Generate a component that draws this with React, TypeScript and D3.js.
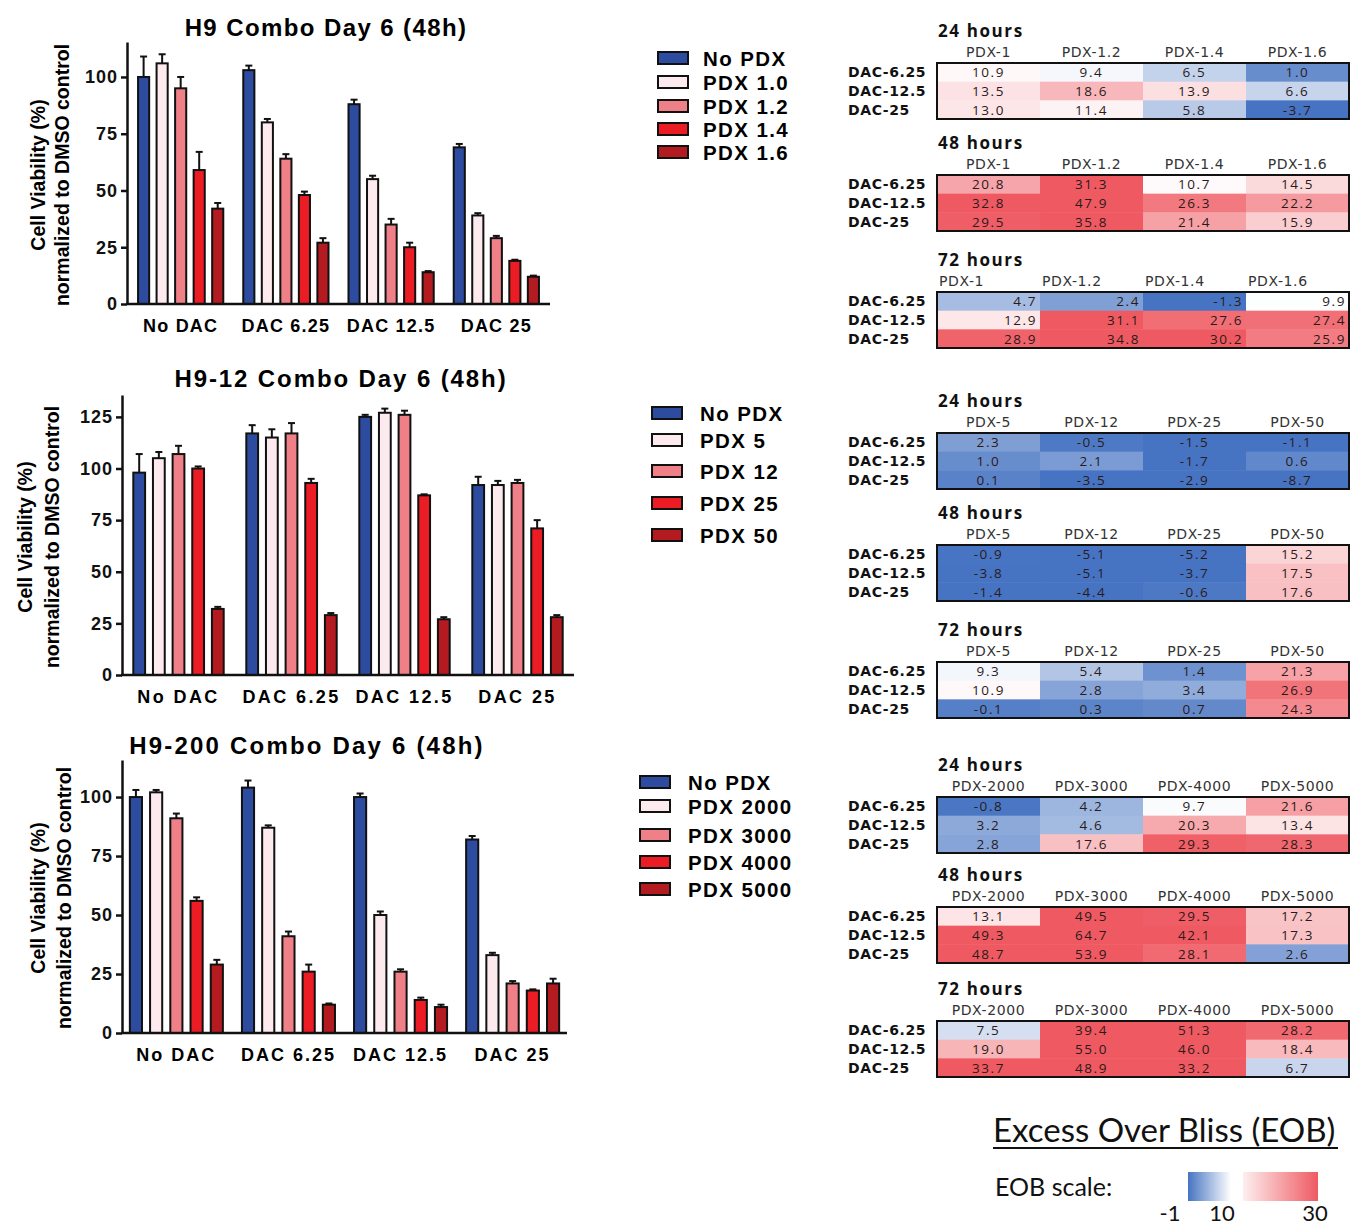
import React, { useEffect, useRef } from 'react';
import * as d3 from 'd3';

// ---- bar chart data ----
const groups = ['No DAC', 'DAC 6.25', 'DAC 12.5', 'DAC 25'];
const barColors = ['#2d4c9f', '#fdeaee', '#f08088', '#ec1c24', '#b31b21'];
const yTicks1 = [0, 25, 50, 75, 100];
const yTicks2 = [0, 25, 50, 75, 100, 125];

const h9Legend = ['No PDX', 'PDX 1.0', 'PDX 1.2', 'PDX 1.4', 'PDX 1.6'];
const h9Values = [[100, 106, 95, 59, 42], [103, 80, 64, 48, 27], [88, 55, 35, 25, 14], [69, 39, 29, 19, 12]];
const h9Errors = [[9, 4, 5, 8, 2.5], [2, 1.5, 2, 1.5, 2], [2, 1.5, 2.5, 2, 0.5], [1.5, 1, 1, 0.5, 0.5]];

const h912Legend = ['No PDX', 'PDX 5', 'PDX 12', 'PDX 25', 'PDX 50'];
const h912Values = [[98, 105, 107, 100, 32], [117, 115, 117, 93, 29], [125, 127, 126, 87, 27], [92, 92, 93, 71, 28]];
const h912Errors = [[9, 3, 4, 1, 1], [4, 4, 5, 2, 1], [1, 2, 2, 0.5, 1], [4, 2, 1.5, 4, 1]];

const h9200Legend = ['No PDX', 'PDX 2000', 'PDX 3000', 'PDX 4000', 'PDX 5000'];
const h9200Values = [[100, 102, 91, 56, 29], [104, 87, 41, 26, 12], [100, 50, 26, 14, 11], [82, 33, 21, 18, 21]];
const h9200Errors = [[3, 1, 2, 1.5, 2], [3, 1, 2, 3, 0.5], [1.5, 1.5, 1, 1, 1], [1.5, 1, 1, 0.5, 2]];

// ---- heatmap data ----
const rowLabels = ['DAC-6.25', 'DAC-12.5', 'DAC-25'];
const cols1 = ['PDX-1', 'PDX-1.2', 'PDX-1.4', 'PDX-1.6'];
const cols2 = ['PDX-5', 'PDX-12', 'PDX-25', 'PDX-50'];
const cols3 = ['PDX-2000', 'PDX-3000', 'PDX-4000', 'PDX-5000'];

const eob1_24 = [[10.9, 9.4, 6.5, 1.0], [13.5, 18.6, 13.9, 6.6], [13.0, 11.4, 5.8, -3.7]];
const eob1_48 = [[20.8, 31.3, 10.7, 14.5], [32.8, 47.9, 26.3, 22.2], [29.5, 35.8, 21.4, 15.9]];
const eob1_72 = [[4.7, 2.4, -1.3, 9.9], [12.9, 31.1, 27.6, 27.4], [28.9, 34.8, 30.2, 25.9]];
const eob2_24 = [[2.3, -0.5, -1.5, -1.1], [1.0, 2.1, -1.7, 0.6], [0.1, -3.5, -2.9, -8.7]];
const eob2_48 = [[-0.9, -5.1, -5.2, 15.2], [-3.8, -5.1, -3.7, 17.5], [-1.4, -4.4, -0.6, 17.6]];
const eob2_72 = [[9.3, 5.4, 1.4, 21.3], [10.9, 2.8, 3.4, 26.9], [-0.1, 0.3, 0.7, 24.3]];
const eob3_24 = [[-0.8, 4.2, 9.7, 21.6], [3.2, 4.6, 20.3, 13.4], [2.8, 17.6, 29.3, 28.3]];
const eob3_48 = [[13.1, 49.5, 29.5, 17.2], [49.3, 64.7, 42.1, 17.3], [48.7, 53.9, 28.1, 2.6]];
const eob3_72 = [[7.5, 39.4, 51.3, 28.2], [19.0, 55.0, 46.0, 18.4], [33.7, 48.9, 33.2, 6.7]];

const eobScaleStops = [-1, 10, 30];

const ARIAL = 'Liberation Sans, Arial, sans-serif';
const CAL = 'Lato, Open Sans, sans-serif';

const App = () => {
  const ref = useRef<SVGSVGElement>(null);

  useEffect(() => {
    const svg = d3.select(ref.current);
    svg.selectAll('*').remove();

    const barCharts = [
      { title: 'H9 Combo Day 6 (48h)', tx: 326, ty: 27, tls: 1.4, values: h9Values, errors: h9Errors, legend: h9Legend, ticks: yTicks1,
        x0: 127, x1: 550, y0: 304, yTop: 42, yMax: 115.4, pi: 0.19, po: 0.105, labA: 38, labB: 62, labY: 175, ls: 1.2,
        legX: 658, legTX: 703, legY: [58, 82, 106, 129, 152] },
      { title: 'H9-12 Combo Day 6 (48h)', tx: 341, ty: 378, tls: 1.9, values: h912Values, errors: h912Errors, legend: h912Legend, ticks: yTicks2,
        x0: 122, x1: 574, y0: 675, yTop: 395, yMax: 135.6, pi: 0.2, po: 0.1, labA: 25, labB: 52, labY: 537, ls: 2.4,
        legX: 652, legTX: 700, legY: [413, 440, 471, 503, 535] },
      { title: 'H9-200 Combo Day 6 (48h)', tx: 307, ty: 745, tls: 2.2, values: h9200Values, errors: h9200Errors, legend: h9200Legend, ticks: yTicks1,
        x0: 122, x1: 567, y0: 1033, yTop: 760, yMax: 115.7, pi: 0.17, po: 0.07, labA: 38, labB: 64, labY: 898, ls: 2,
        legX: 640, legTX: 688, legY: [782, 806, 835, 862, 889] },
    ];

    barCharts.forEach((c) => {
      const g = svg.append('g');
      const y = d3.scaleLinear().domain([0, c.yMax]).range([c.y0, c.yTop]);
      const xg = d3.scaleBand().domain(groups).range([c.x0, c.x1]).paddingInner(c.pi).paddingOuter(c.po);
      const xi = d3.scaleBand<number>().domain(d3.range(5)).range([0, xg.bandwidth()]).paddingInner(0.4).paddingOuter(0);

      g.append('text').attr('x', c.tx).attr('y', c.ty).attr('text-anchor', 'middle').attr('dominant-baseline', 'central')
        .style('font', `bold 24px ${ARIAL}`).style('letter-spacing', `${c.tls}px`).text(c.title);

      [['Cell Viability (%)', c.labA], ['normalized to DMSO control', c.labB]].forEach(([t, lx]) => {
        g.append('text').attr('transform', `translate(${lx},${c.labY}) rotate(-90)`).attr('text-anchor', 'middle')
          .attr('dominant-baseline', 'central').style('font', `bold 19.5px ${ARIAL}`).text(t as string);
      });

      groups.forEach((grp, gi) => {
        c.values[gi].forEach((v, i) => {
          const bx = (xg(grp) as number) + (xi(i) as number);
          const bw = xi.bandwidth();
          g.append('rect').attr('x', bx).attr('y', y(v)).attr('width', bw).attr('height', c.y0 - y(v))
            .attr('fill', barColors[i]).attr('stroke', '#111').attr('stroke-width', 2);
          const e = c.errors[gi][i];
          const cx = bx + bw / 2;
          g.append('line').attr('x1', cx).attr('x2', cx).attr('y1', y(v)).attr('y2', y(v + e))
            .attr('stroke', '#111').attr('stroke-width', 2);
          g.append('line').attr('x1', cx - 3.5).attr('x2', cx + 3.5).attr('y1', y(v + e)).attr('y2', y(v + e))
            .attr('stroke', '#111').attr('stroke-width', 2);
        });
        g.append('text').attr('x', (xg(grp) as number) + xg.bandwidth() / 2).attr('y', c.y0 + 28)
          .attr('text-anchor', 'middle').style('font', `bold 18px ${ARIAL}`).style('letter-spacing', `${c.ls}px`).text(grp);
      });

      const ax = g.append('g').attr('transform', `translate(${c.x0},0)`)
        .call(d3.axisLeft(y).tickValues(c.ticks).tickSize(6).tickSizeOuter(0).tickPadding(3));
      ax.select('.domain').attr('stroke', '#111').attr('stroke-width', 2.5);
      ax.selectAll('.tick line').attr('stroke', '#111').attr('stroke-width', 2.5);
      ax.selectAll('.tick text').style('font', `bold 18px ${ARIAL}`).style('letter-spacing', '1px').attr('fill', '#111');

      g.append('line').attr('x1', c.x0 - 1).attr('x2', c.x1).attr('y1', c.y0).attr('y2', c.y0)
        .attr('stroke', '#111').attr('stroke-width', 2.5);

      c.legend.forEach((lab, i) => {
        g.append('rect').attr('x', c.legX).attr('y', c.legY[i] - 6).attr('width', 30).attr('height', 12)
          .attr('fill', barColors[i]).attr('stroke', '#111').attr('stroke-width', 2);
        g.append('text').attr('x', c.legTX).attr('y', c.legY[i]).attr('dominant-baseline', 'central')
          .style('font', `bold 20.5px ${ARIAL}`).style('letter-spacing', '1.4px').text(lab);
      });
    });

    // ---- heatmaps ----
    const color = d3.scaleLinear<string>().domain(eobScaleStops).range(['#4674c2', '#ffffff', '#ef5a62']).clamp(true);
    const tables = [
      { title: '24 hours', cols: cols1, vals: eob1_24, top: 63, right: false },
      { title: '48 hours', cols: cols1, vals: eob1_48, top: 175, right: false },
      { title: '72 hours', cols: cols1, vals: eob1_72, top: 292, right: true },
      { title: '24 hours', cols: cols2, vals: eob2_24, top: 433, right: false },
      { title: '48 hours', cols: cols2, vals: eob2_48, top: 545, right: false },
      { title: '72 hours', cols: cols2, vals: eob2_72, top: 662, right: false },
      { title: '24 hours', cols: cols3, vals: eob3_24, top: 797, right: false },
      { title: '48 hours', cols: cols3, vals: eob3_48, top: 907, right: false },
      { title: '72 hours', cols: cols3, vals: eob3_72, top: 1021, right: false },
    ];
    const hx0 = 937, hx1 = 1349, hh = 56;
    tables.forEach((t) => {
      const g = svg.append('g');
      const xc = d3.scaleBand<number>().domain(d3.range(4)).range([hx0, hx1]);
      const yr = d3.scaleBand<number>().domain(d3.range(3)).range([t.top, t.top + hh]);
      g.append('text').attr('x', hx0 + 1).attr('y', t.top - 26).style('font', `bold 17px Open Sans, sans-serif`)
        .style('letter-spacing', '1.6px').attr('fill', '#111').text(t.title);
      t.cols.forEach((cn, j) => {
        g.append('text')
          .attr('x', t.right ? (xc(j) as number) + 2 : (xc(j) as number) + xc.bandwidth() / 2)
          .attr('y', t.top - 6)
          .attr('text-anchor', t.right ? 'start' : 'middle')
          .style('font', `14px DejaVu Sans, sans-serif`).style('letter-spacing', '0.6px').attr('fill', '#333').text(cn);
      });
      t.vals.forEach((row, r) => {
        g.append('text').attr('x', 848).attr('y', (yr(r) as number) + yr.bandwidth() / 2)
          .attr('dominant-baseline', 'central').style('font', `bold 14px DejaVu Sans, sans-serif`)
          .style('letter-spacing', '0.6px').attr('fill', '#111').text(rowLabels[r]);
        row.forEach((v, j) => {
          g.append('rect').attr('x', xc(j) as number).attr('y', yr(r) as number)
            .attr('width', xc.bandwidth() + 0.5).attr('height', yr.bandwidth() + 0.5).attr('fill', color(v));
          g.append('text')
            .attr('x', t.right ? (xc(j) as number) + xc.bandwidth() - 3 : (xc(j) as number) + xc.bandwidth() / 2)
            .attr('y', (yr(r) as number) + yr.bandwidth() / 2)
            .attr('text-anchor', t.right ? 'end' : 'middle').attr('dominant-baseline', 'central')
            .style('font', `13.5px Open Sans, sans-serif`).style('letter-spacing', '1.6px').attr('fill', '#2a1a1a').text(v.toFixed(1));
        });
      });
      g.append('rect').attr('x', hx0).attr('y', t.top).attr('width', hx1 - hx0).attr('height', hh)
        .attr('fill', 'none').attr('stroke', '#111').attr('stroke-width', 2);
    });

    // ---- EOB legend ----
    const defs = svg.append('defs');
    const gb = defs.append('linearGradient').attr('id', 'gBlue');
    gb.append('stop').attr('offset', '0%').attr('stop-color', color(-1));
    gb.append('stop').attr('offset', '100%').attr('stop-color', color(10));
    const gr = defs.append('linearGradient').attr('id', 'gRed');
    gr.append('stop').attr('offset', '0%').attr('stop-color', color(12));
    gr.append('stop').attr('offset', '100%').attr('stop-color', color(30));

    svg.append('text').attr('x', 993).attr('y', 1142).style('font', `33px ${CAL}`).attr('fill', '#111')
      .text('Excess Over Bliss (EOB)');
    svg.append('line').attr('x1', 993).attr('x2', 1338).attr('y1', 1148).attr('y2', 1148)
      .attr('stroke', '#111').attr('stroke-width', 2);
    svg.append('text').attr('x', 995).attr('y', 1196).style('font', `25px ${CAL}`).attr('fill', '#111')
      .text('EOB scale:');
    svg.append('rect').attr('x', 1188).attr('y', 1172).attr('width', 43).attr('height', 29).attr('fill', 'url(#gBlue)');
    svg.append('rect').attr('x', 1243).attr('y', 1172).attr('width', 75).attr('height', 29).attr('fill', 'url(#gRed)');
    const labX = d3.scaleLinear().domain([-1, 10, 30]).range([1170, 1222, 1315]);
    eobScaleStops.forEach((v) => {
      svg.append('text').attr('x', labX(v)).attr('y', 1221).attr('text-anchor', 'middle')
        .style('font', `22px ${CAL}`).attr('fill', '#111').text(String(v));
    });
  }, []);

  return (
    <div style={{ position: 'absolute', left: 0, top: 0 }}>
      <svg ref={ref} width={1352} height={1227} style={{ display: 'block', background: '#fff' }} />
    </div>
  );
};

export default App;
